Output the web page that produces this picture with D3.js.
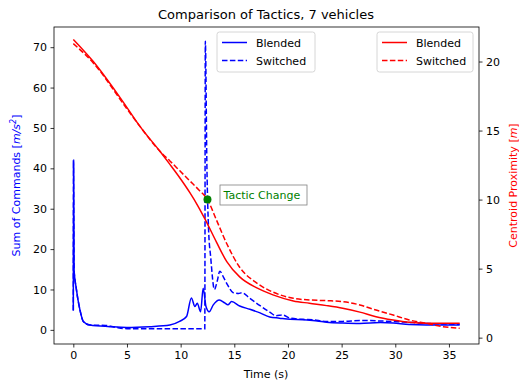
<!DOCTYPE html>
<html><head><meta charset="utf-8">
<script src="https://cdn.jsdelivr.net/npm/d3@7"></script>
<style>body{margin:0;background:#fff;font-family:"DejaVu Sans",sans-serif;}</style>
</head><body><svg id="c" width="519" height="384"></svg>
<script>
// Time (s) and values
const blendedCmdT = [0,0.02,0.07,0.25,0.62,0.93,1.55,3.4,5,7.1,9,9.9,10.55,11.0,11.33,11.55,11.86,12.1,12.36,12.66,13.04,13.6,14.1,14.4,14.75,15.5,16.45,17.4,18.3,19.2,20.2,21.4,22.3,23.6,25.1,26.7,28.6,29.8,31.3,32.9,36];
const blendedCmd  = [4.8,42,14.8,10.7,4.9,2.1,1.2,0.8,0.6,0.8,1.2,2.1,3.3,7.9,5.8,6.6,4.5,10.3,5.8,4.5,6.2,7.4,6.7,6.2,7.0,5.9,5.1,4.2,3.2,2.9,2.6,2.5,2.3,1.9,1.7,1.6,1.8,1.7,1.3,1.2,1.2];
const switchedCmdT = [0,0.02,0.07,0.25,0.62,0.93,1.55,3.0,4.0,5.0,12.25,12.3,12.45,12.6,12.8,13.15,13.4,13.65,14.0,14.4,14.9,15.4,15.7,16.45,17.4,18.3,18.9,19.5,20.2,21.4,22.3,23.6,25.1,26.7,27.6,28.6,30.4,31.7,32.9,36];
const switchedCmd  = [4.8,42,14.8,10.7,4.9,2.1,1.2,1.1,0.6,0.3,0.3,71.5,40,25,18,10,12,14.5,13,11,9.2,9.0,9.2,7.8,6.0,4.4,3.5,3.7,2.9,2.6,2.5,2.1,2.1,2.3,2.3,2.2,2.0,1.8,1.6,1.4];
const blendedProxT = [0,1.86,4.97,6.21,8.07,9.0,9.9,10.86,11.6,12.26,13.35,14.3,15.5,17.1,18.6,20.5,22.0,23.6,25.1,26.7,28.2,29.8,31.3,32.9,36];
const blendedProx  = [21.6,20.0,16.7,15.3,13.5,12.55,11.6,10.5,9.55,8.6,6.9,5.5,4.4,3.6,3.1,2.66,2.49,2.32,2.13,1.85,1.52,1.28,1.11,1.04,1.04];
const switchedProxT = [0,1.86,4.97,6.21,8.07,9.0,9.9,10.86,11.7,12.5,13.35,14.3,15.5,17.1,18.6,20.5,22.0,23.6,25.1,26.7,28.2,29.8,31.3,32.9,34.4,36];
const switchedProx  = [21.3,19.9,16.6,15.3,13.5,12.8,12.1,11.35,10.7,10.0,8.5,6.8,5.1,3.95,3.3,2.85,2.73,2.68,2.61,2.37,2.0,1.64,1.28,1.04,0.80,0.68];
const xTicks = [0,5,10,15,20,25,30,35];
const leftTicks = [0,10,20,30,40,50,60,70];
const rightTicks = [0,5,10,15,20];
const tacticChange = [12.5, 10.0];

const svg = d3.select("#c");
const L=54, R=479, T=27, B=344;
const x = d3.scaleLinear().domain([-1.8,37.8]).range([L,R]);
const yL = d3.scaleLinear().domain([-3.5,75]).range([B,T]);
const yR = d3.scaleLinear().domain([-0.46,22.5]).range([B,T]);
const font = "DejaVu Sans, sans-serif";

const plot = svg.append("g");
plot.append("defs").append("clipPath").attr("id","clip").append("rect").attr("x",L).attr("y",T).attr("width",R-L).attr("height",B-T);
const g = plot.append("g").attr("clip-path","url(#clip)");
function draw(ts, vs, ys, color, dash){
  const pts = ts.map((t,i)=>[t,vs[i]]);
  g.append("path").datum(pts)
    .attr("d", d3.line().x(d=>x(d[0])).y(d=>ys(d[1])).curve(d3.curveMonotoneX))
    .attr("fill","none").attr("stroke",color).attr("stroke-width",1.5)
    .attr("stroke-dasharray", dash?"5.5,2.4":null);
}
draw(blendedCmdT, blendedCmd, yL, "#0000ff", false);
draw(switchedCmdT, switchedCmd, yL, "#0000ff", true);
draw(blendedProxT, blendedProx, yR, "#ff0000", false);
draw(switchedProxT, switchedProx, yR, "#ff0000", true);

g.append("circle").attr("cx",x(tacticChange[0])).attr("cy",yR(tacticChange[1])).attr("r",4).attr("fill","#008000");

// axes
const ax = svg.append("g").attr("transform",`translate(0,${B})`).call(d3.axisBottom(x).tickValues(xTicks).tickSize(3.5).tickPadding(3.5));
const ayl = svg.append("g").attr("transform",`translate(${L},0)`).call(d3.axisLeft(yL).tickValues(leftTicks).tickSize(3.5).tickPadding(3.5));
const ayr = svg.append("g").attr("transform",`translate(${R},0)`).call(d3.axisRight(yR).tickValues(rightTicks).tickSize(3.5).tickPadding(3.5));
[ax,ayl,ayr].forEach(a=>{a.select(".domain").remove(); a.selectAll("text").attr("font-size",11).attr("font-family",font).attr("fill","#000"); a.selectAll("line").attr("stroke","#000").attr("stroke-width",0.8);});
svg.append("rect").attr("x",L).attr("y",T).attr("width",R-L).attr("height",B-T).attr("fill","none").attr("stroke","#000").attr("stroke-width",0.8);

// annotation
const ag = svg.append("g");
ag.append("rect").attr("x",220).attr("y",185).attr("width",87).attr("height",20).attr("fill","#fff").attr("stroke","#808080").attr("stroke-width",0.8);
ag.append("text").attr("x",223.5).attr("y",199).attr("font-size",11).attr("font-family",font).attr("fill","#008000").text("Tactic Change");

// title & labels
svg.append("text").attr("x",266).attr("y",19).attr("text-anchor","middle").attr("font-size",13).attr("font-family",font).text("Comparison of Tactics, 7 vehicles");
svg.append("text").attr("x",266).attr("y",378).attr("text-anchor","middle").attr("font-size",11).attr("font-family",font).text("Time (s)");
const ylab = svg.append("text").attr("transform",`translate(20,${(T+B)/2}) rotate(-90)`).attr("text-anchor","middle").attr("font-size",11).attr("font-family",font).attr("fill","#0000ff");
ylab.append("tspan").text("Sum of Commands [");
ylab.append("tspan").attr("font-style","italic").text("m/s");
ylab.append("tspan").attr("font-style","italic").attr("font-size",8).attr("dy",-4).text("2");
ylab.append("tspan").attr("dy",4).text("]");
const yrlab = svg.append("text").attr("transform",`translate(517,${(T+B)/2}) rotate(-90)`).attr("text-anchor","middle").attr("font-size",11).attr("font-family",font).attr("fill","#ff0000");
yrlab.append("tspan").text("Centroid Proximity [");
yrlab.append("tspan").attr("font-style","italic").text("m");
yrlab.append("tspan").text("]");

// legends
const legendNames = ["Blended","Switched"];
function legend(x0, w, color){
  const lg = svg.append("g");
  lg.append("rect").attr("x",x0).attr("y",32).attr("width",w).attr("height",40).attr("rx",2.5).attr("fill","#fff").attr("fill-opacity",0.8).attr("stroke","#cccccc").attr("stroke-width",0.8);
  legendNames.forEach((n,i)=>{
    const yy = 42.5 + i*18;
    lg.append("line").attr("x1",x0+5).attr("x2",x0+30).attr("y1",yy).attr("y2",yy).attr("stroke",color).attr("stroke-width",1.5).attr("stroke-dasharray", i?"5.5,2.4":null);
    lg.append("text").attr("x",x0+39).attr("y",yy+4).attr("font-size",11).attr("font-family",font).text(n);
  });
}
legend(217, 98, "#0000ff");
legend(377, 96, "#ff0000");
</script></body></html>
